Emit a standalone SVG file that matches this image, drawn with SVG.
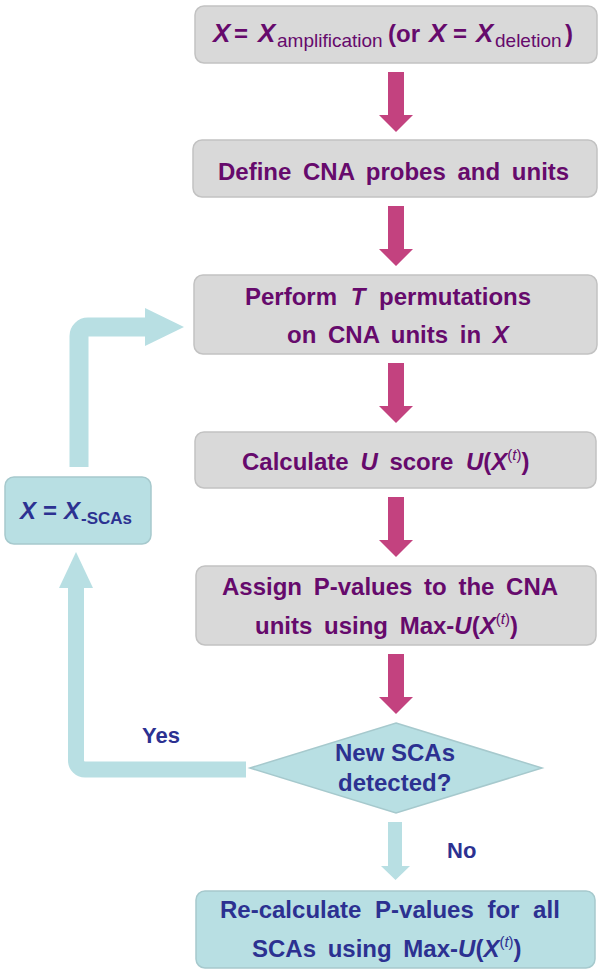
<svg xmlns="http://www.w3.org/2000/svg" width="600" height="975" viewBox="0 0 600 975">
<style>
.gbox{fill:#d9d9d9;stroke:#c2c2c2;stroke-width:1.5}
.bbox{fill:#b8dfe3;stroke:#a6c9cd;stroke-width:1.5}
.pt{font-family:"Liberation Sans",Arial,sans-serif;font-weight:bold;font-size:24px;fill:#660a6c;word-spacing:5px}
.bt{font-family:"Liberation Sans",Arial,sans-serif;font-weight:bold;font-size:24px;fill:#2c3191;word-spacing:5px}
.it{font-style:italic}
.sub{font-weight:normal;font-size:19px}
.sup{font-size:15px;font-weight:normal}
.pink{fill:#c3427f}
.blue{fill:#b8dfe3}
.loop{fill:none;stroke:#b8dfe3}
</style>
<defs>
<polygon id="parrow" points="-8,0 8,0 8,43 17,43 0,60 -17,43 -8,43"/>
</defs>
<g id="connectors">
<use href="#parrow" class="pink" x="396" y="72"/>
<use href="#parrow" class="pink" x="396" y="206"/>
<use href="#parrow" class="pink" x="396" y="363"/>
<use href="#parrow" class="pink" x="396" y="497"/>
<use href="#parrow" class="pink" x="396" y="654"/>
<polygon class="blue" points="388,822 402,822 402,866 410,866 395.5,880 381,866 388,866"/>
<path class="loop" stroke-width="19" d="M79,467 V336 A9,9 0 0 1 88,327 H146"/>
<polygon class="blue" points="145,308 184,327 145,346"/>
<path class="loop" stroke-width="16" d="M246,769.5 H85 A9,9 0 0 1 76,760.5 V587"/>
<polygon class="blue" points="59,588 76,552 93,588"/>
<text class="bt" x="142" y="743" style="font-size:22px">Yes</text>
<text class="bt" x="447" y="858" style="font-size:22px">No</text>
</g>
<g id="n1">
<rect class="gbox" x="195" y="6" width="402" height="57" rx="9"/>
<text class="pt"><tspan class="it" x="213" y="42" style="font-size:26px">X</tspan><tspan x="234" y="42">=</tspan><tspan class="it" x="258" y="42" style="font-size:26px">X</tspan><tspan class="sub" x="277" y="47">amplification</tspan><tspan x="388" y="42">(or</tspan><tspan class="it" x="429" y="42" style="font-size:26px">X</tspan><tspan x="453" y="42">=</tspan><tspan class="it" x="476" y="42" style="font-size:26px">X</tspan><tspan class="sub" x="495" y="47">deletion</tspan><tspan x="565" y="42">)</tspan></text>
</g>
<g id="n2">
<rect class="gbox" x="193" y="140" width="404" height="57" rx="9"/>
<text class="pt" x="218" y="180">Define CNA probes and units</text>
</g>
<g id="n3">
<rect class="gbox" x="194" y="275" width="403" height="79" rx="9"/>
<text class="pt" x="245" y="305" style="word-spacing:7px">Perform <tspan class="it">T</tspan> permutations</text>
<text class="pt" x="287" y="343">on CNA units in <tspan class="it">X</tspan></text>
</g>
<g id="n4">
<rect class="gbox" x="195" y="432" width="401" height="56" rx="9"/>
<text class="pt" x="242" y="470">Calculate <tspan class="it">U</tspan> score <tspan class="it" x="466">U</tspan>(<tspan class="it">X</tspan><tspan class="sup" dy="-10">(<tspan class="it">t</tspan>)</tspan><tspan dy="10">)</tspan></text>
</g>
<g id="n5">
<rect class="gbox" x="196" y="566" width="400" height="79" rx="9"/>
<text class="pt" x="222" y="595">Assign P-values to the CNA</text>
<text class="pt" x="255" y="634">units using Max-<tspan class="it">U</tspan>(<tspan class="it">X</tspan><tspan class="sup" dy="-10">(<tspan class="it">t</tspan>)</tspan><tspan dy="10">)</tspan></text>
</g>
<g id="n6">
<polygon class="bbox" points="396,723 542,768 396,813 250,768"/>
<text class="bt" x="335" y="761" style="word-spacing:0">New SCAs</text>
<text class="bt" x="338" y="791">detected?</text>
</g>
<g id="n7">
<rect class="bbox" x="5" y="477" width="146" height="67" rx="9"/>
<text class="bt"><tspan class="it" x="20" y="519">X</tspan><tspan x="43" y="519">=</tspan><tspan class="it" x="64" y="519">X</tspan><tspan x="81" y="524" style="font-size:17px;word-spacing:0">-SCAs</tspan></text>
</g>
<g id="n8">
<rect class="bbox" x="196" y="891" width="399" height="77" rx="9"/>
<text class="bt" x="220" y="918" style="word-spacing:7px">Re-calculate P-values for all</text>
<text class="bt" x="252" y="957">SCAs using Max-<tspan class="it">U</tspan>(<tspan class="it">X</tspan><tspan class="sup" dy="-10">(<tspan class="it">t</tspan>)</tspan><tspan dy="10">)</tspan></text>
</g>
</svg>
